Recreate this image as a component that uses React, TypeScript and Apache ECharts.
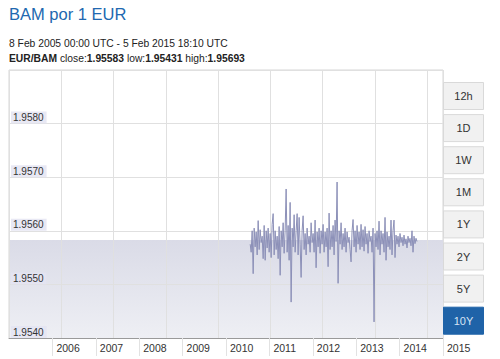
import React, { useEffect, useRef } from "react";
import * as echarts from "echarts";

const TITLE = "BAM por 1 EUR";
const RANGE_TEXT = "8 Feb 2005 00:00 UTC - 5 Feb 2015 18:10 UTC";
const PAIR = "EUR/BAM";
const CLOSE = 1.95583;
const LOW = 1.95431;
const HIGH = 1.95693;

const X_MIN_YEAR = 2005;
const X_MAX_YEAR = 2015;
const Y_MIN = 1.954;
const Y_MAX = 1.959;
const Y_STEP = 0.001;

const SERIES_START = 2010.557;
const SERIES_END = 2014.401;

const RATES = [
  1.95575, 1.9556, 1.956, 1.9552, 1.95605, 1.9557, 1.95598, 1.95555, 1.95619, 1.95565,
  1.95602, 1.95578, 1.9559, 1.95548, 1.9561, 1.95545, 1.956, 1.95568, 1.95605, 1.9556,
  1.95595, 1.9555, 1.95612, 1.95632, 1.95555, 1.956, 1.95565, 1.9559, 1.95548, 1.95608,
  1.95517, 1.956, 1.9557, 1.95615, 1.95558, 1.956, 1.95678, 1.9556, 1.9561, 1.95545,
  1.95653, 1.95467, 1.95605, 1.9557, 1.9563, 1.9556, 1.956, 1.95632, 1.95555, 1.95625,
  1.95575, 1.95513, 1.956, 1.95628, 1.95565, 1.95595, 1.95555, 1.95605, 1.95575, 1.9559,
  1.9556, 1.95615, 1.95578, 1.95595, 1.9556, 1.9562, 1.95531, 1.95598, 1.9557, 1.95605,
  1.95558, 1.956, 1.95575, 1.95612, 1.9556, 1.95598, 1.9557, 1.95605, 1.95533, 1.95633,
  1.95565, 1.956, 1.9557, 1.9561, 1.95555, 1.9562, 1.9558, 1.95691, 1.95502, 1.956,
  1.95575, 1.95615, 1.95565, 1.95595, 1.9557, 1.95605, 1.9556, 1.95598, 1.95578, 1.95588,
  1.95565, 1.95542, 1.956, 1.95621, 1.9557, 1.956, 1.9556, 1.9561, 1.95575, 1.95598,
  1.95565, 1.95612, 1.9557, 1.95602, 1.95562, 1.95608, 1.95575, 1.95595, 1.95558, 1.956,
  1.9558, 1.9559, 1.9556, 1.95605, 1.9543, 1.95595, 1.9557, 1.956, 1.95565, 1.95618,
  1.95555, 1.956, 1.95575, 1.95595, 1.9556, 1.95625, 1.95545, 1.95598, 1.9557, 1.9559,
  1.95565, 1.9562, 1.95555, 1.956, 1.9562, 1.9555, 1.95592, 1.95575, 1.9559, 1.9557,
  1.95595, 1.95578, 1.95588, 1.95572, 1.95592, 1.95575, 1.95585, 1.95568, 1.9559, 1.95578,
  1.95586, 1.95572, 1.956, 1.9556, 1.9559, 1.95576, 1.95586, 1.9558,
];

const BUTTONS = ["12h", "1D", "1W", "1M", "1Y", "2Y", "5Y", "10Y"];
const ACTIVE_BUTTON = "10Y";

const FONT = "'Liberation Sans', Arial, Helvetica, sans-serif";

export default function App() {
  const ref = useRef<HTMLDivElement>(null);

  useEffect(() => {
    if (!ref.current) return;
    const chart = echarts.init(ref.current, undefined, { renderer: "svg" });

    const step = (SERIES_END - SERIES_START) / (RATES.length - 1);
    const data = RATES.map((v, i) => [SERIES_START + i * step, v]);

    const buttonGraphics: any[] = [];
    BUTTONS.forEach((b, k) => {
      const active = b === ACTIVE_BUTTON;
      const top = 82 + k * 32.1;
      buttonGraphics.push({
        type: "rect",
        shape: { x: 443.5, y: top + 0.5, width: 40, height: 27 },
        style: {
          fill: active ? "#1f63a8" : "#f1f1f1",
          stroke: active ? "#1f63a8" : "#d9d9d9",
          lineWidth: 1,
        },
        z: 10,
      });
      buttonGraphics.push({
        type: "text",
        x: 463.5,
        y: top + 14,
        style: {
          text: b,
          fill: active ? "#d6e4f5" : "#333333",
          font: `11px ${FONT}`,
          align: "center",
          verticalAlign: "middle",
        },
        z: 11,
      });
    });

    const option: any = {
      animation: false,
      backgroundColor: "#ffffff",
      grid: {
        left: 9,
        right: 57,
        top: 70,
        bottom: 21,
        show: true,
        borderColor: "#d6d6d6",
        borderWidth: 1,
        backgroundColor: "transparent",
      },
      xAxis: [
        {
          type: "value",
          min: X_MIN_YEAR,
          max: X_MAX_YEAR,
          interval: 1,
          position: "bottom",
          z: 3,
          axisLine: { show: true, lineStyle: { color: "#9a9a9a" } },
          axisTick: {
            show: true,
            inside: false,
            length: 18,
            lineStyle: { color: "#e2e2e2" },
          },
          splitLine: { show: false },
          axisLabel: {
            show: true,
            showMinLabel: false,
            showMaxLabel: true,
            align: "left",
            margin: 4,
            padding: [0, 0, 0, 4],
            color: "#333333",
            fontSize: 10.5,
            fontFamily: FONT,
            formatter: (v: number) => String(Math.round(v)),
          },
        },
        {
          type: "value",
          min: 0,
          max: 8.3,
          interval: 1,
          position: "top",
          z: 3,
          axisLine: { show: false },
          axisTick: { show: false },
          axisLabel: { show: false },
          splitLine: { show: true, lineStyle: { color: "#e0e0e0", width: 1 } },
        },
      ],
      yAxis: {
        type: "value",
        min: Y_MIN,
        max: Y_MAX,
        interval: Y_STEP,
        position: "left",
        z: 3,
        axisLine: { show: false },
        axisTick: { show: false },
        splitLine: { show: true, lineStyle: { color: "#e0e0e0", width: 1 } },
        axisLabel: {
          inside: true,
          margin: 2,
          showMaxLabel: false,
          verticalAlign: "bottom",
          align: "left",
          color: "#333333",
          fontSize: 10,
          fontFamily: FONT,
          backgroundColor: "rgba(228,228,242,0.85)",
          padding: [1, 3, 1, 2],
          formatter: (v: number) => v.toFixed(4),
        },
      },
      series: [
        {
          type: "line",
          data: [],
          z: 1,
          silent: true,
          markArea: {
            silent: true,
            itemStyle: {
              color: new echarts.graphic.LinearGradient(0, 0, 0, 1, [
                { offset: 0, color: "#dadbe7" },
                { offset: 1, color: "#eeeff4" },
              ]),
            },
            data: [[{ yAxis: Y_MIN }, { yAxis: CLOSE }]],
          },
        },
        {
          type: "line",
          data,
          z: 4,
          showSymbol: false,
          symbol: "none",
          lineStyle: { color: "#8c90b8", width: 1 },
          markLine: {
            silent: true,
            symbol: "none",
            label: { show: false },
            lineStyle: { color: "#9c9ca8", width: 1, type: "solid" },
            data: [{ yAxis: CLOSE }],
          },
        },
      ],
      graphic: [
        {
          type: "text",
          left: 9,
          top: 5,
          style: {
            text: TITLE,
            fill: "#2168b0",
            font: `16.5px ${FONT}`,
          },
        },
        {
          type: "text",
          left: 9,
          top: 38,
          style: {
            text: RANGE_TEXT,
            fill: "#222222",
            font: `10.3px ${FONT}`,
          },
        },
        {
          type: "text",
          left: 9,
          top: 53,
          style: {
            text:
              `{b|${PAIR}}{n| close:}{b|${CLOSE.toFixed(5)}}` +
              `{n| low:}{b|${LOW.toFixed(5)}}{n| high:}{b|${HIGH.toFixed(5)}}`,
            rich: {
              b: { font: `bold 10.3px ${FONT}`, fill: "#222222" },
              n: { font: `10.3px ${FONT}`, fill: "#222222" },
            },
          },
        },
        ...buttonGraphics,
      ],
    };

    chart.setOption(option);
    return () => chart.dispose();
  }, []);

  return (
    <div
      ref={ref}
      style={{ position: "fixed", left: 0, top: 0, width: 500, height: 359 }}
    />
  );
}
